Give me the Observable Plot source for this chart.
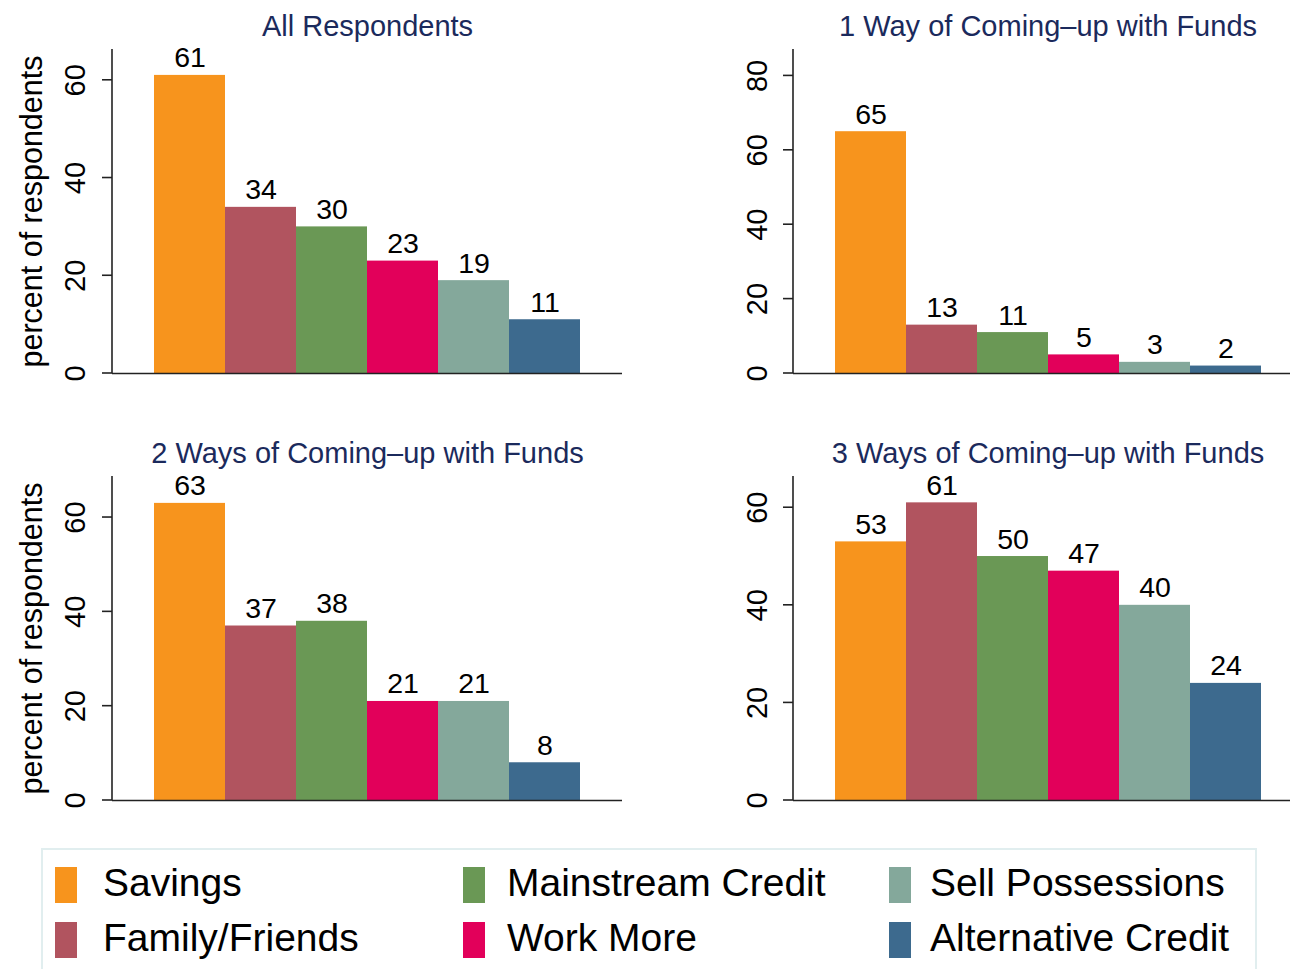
<!DOCTYPE html>
<html>
<head>
<meta charset="utf-8">
<script src="https://cdn.jsdelivr.net/npm/d3@7"></script>
<script src="https://cdn.jsdelivr.net/npm/@observablehq/plot@0.6"></script>
<style>
  html, body { margin: 0; padding: 0; background: #fff; }
  #wrap { position: relative; width: 1290px; height: 969px; overflow: hidden; background: #fff;
          font-family: "Liberation Sans", Arial, sans-serif; }
  .panel { position: absolute; }
  .panel svg { display: block; max-width: none !important; }
</style>
</head>
<body>
<div id="wrap"></div>
<script>
// ---- data ----
const categories = ["Savings", "Family/Friends", "Mainstream Credit", "Work More", "Sell Possessions", "Alternative Credit"];
const colors = ["#f7941d", "#b1545f", "#6a9855", "#e2005a", "#84a89b", "#3d6a8e"];
const panelTitles = ["All Respondents", "1 Way of Coming\u2013up with Funds", "2 Ways of Coming\u2013up with Funds", "3 Ways of Coming\u2013up with Funds"];
const allRespondents = [61, 34, 30, 23, 19, 11];
const oneWay = [65, 13, 11, 5, 3, 2];
const twoWays = [63, 37, 38, 21, 21, 8];
const threeWays = [53, 61, 50, 47, 40, 24];
const ticksA = [0, 20, 40, 60];
const ticksB = [0, 20, 40, 60, 80];
const yLabel = "percent of respondents";

const FONT = '"Liberation Sans", Arial, sans-serif';
const AXIS = "#222";
const TITLE = "#1b2a5c";

const panels = [
  {values: allRespondents, title: panelTitles[0], ticks: ticksA, yMax: 66.3, left: 0,   top: 0,   width: 645, marginLeft: 112, tickDx: -37, ylab: true},
  {values: oneWay,         title: panelTitles[1], ticks: ticksB, yMax: 87.1, left: 645, top: 0,   width: 680, marginLeft: 148, tickDx: -36, ylab: false},
  {values: twoWays,        title: panelTitles[2], ticks: ticksA, yMax: 68.7, left: 0,   top: 427, width: 645, marginLeft: 112, tickDx: -37, ylab: true},
  {values: threeWays,      title: panelTitles[3], ticks: ticksA, yMax: 66.4, left: 645, top: 427, width: 680, marginLeft: 148, tickDx: -36, ylab: false}
];

const yAxisMark = (ticks) => (index, scales, values, dims) => {
  const g = d3.create("svg:g").attr("stroke", AXIS).attr("stroke-width", 1.6).attr("fill", "none");
  const x0 = dims.marginLeft;
  g.append("line").attr("x1", x0).attr("x2", x0)
    .attr("y1", dims.marginTop).attr("y2", dims.height - dims.marginBottom);
  for (const t of ticks) {
    const y = scales.y(t);
    g.append("line").attr("x1", x0 - 10).attr("x2", x0).attr("y1", y).attr("y2", y);
  }
  return g.node();
};

function makePanel(p) {
  const data = categories.map((c, i) => ({cat: c, value: p.values[i]}));
  const marks = [
    Plot.barY(data, {x: "cat", y: "value", fill: "cat"}),
    Plot.text(data, {x: "cat", y: "value", text: d => String(d.value), lineAnchor: "bottom", dy: -8, fontSize: 28.5, fill: "#000"}),
    Plot.ruleY([0], {stroke: AXIS, strokeWidth: 1.6}),
    yAxisMark(p.ticks),
    Plot.text(p.ticks, {y: d => d, text: d => String(d), frameAnchor: "left", dx: p.tickDx, rotate: -90,
                        textAnchor: "middle", lineAnchor: "middle", fontSize: 29, fill: "#000"}),
    Plot.text([p.title], {text: d => d, frameAnchor: "top", dy: -14, lineAnchor: "bottom", fontSize: 29, fill: TITLE})
  ];
  if (p.ylab) {
    marks.push(Plot.text([yLabel], {text: d => d, frameAnchor: "left", dx: -80, rotate: -90,
                                    textAnchor: "middle", lineAnchor: "middle", fontSize: 30.5, fill: "#000"}));
  }
  return Plot.plot({
    width: p.width, height: 400,
    marginLeft: p.marginLeft, marginRight: 23, marginTop: 49, marginBottom: 27,
    style: {fontFamily: FONT, fontSize: "28px", color: "#000", background: "transparent", maxWidth: "none"},
    x: {type: "band", domain: categories, paddingInner: 0, paddingOuter: 0.566, axis: null},
    y: {domain: [0, p.yMax], axis: null},
    color: {domain: categories, range: colors},
    marks
  });
}

const wrap = document.getElementById("wrap");
for (const p of panels) {
  const div = document.createElement("div");
  div.className = "panel";
  div.style.left = p.left + "px";
  div.style.top = p.top + "px";
  div.style.width = p.width + "px";
  div.style.height = "400px";
  div.appendChild(makePanel(p));
  wrap.appendChild(div);
}

// ---- legend ----
const legendTop = 840;
const swatchX = [55, 463, 889];
const swatchY = [867, 922];
const textX = [103, 507, 930];
const textBase = [896, 951];
const leg = d3.create("svg").attr("width", 1290).attr("height", 969 - legendTop)
  .style("position", "absolute").style("left", "0px").style("top", legendTop + "px");
leg.append("rect").attr("x", 42).attr("y", 849 - legendTop).attr("width", 1214).attr("height", 200)
  .attr("fill", "#fff").attr("stroke", "#e1eeef").attr("stroke-width", 2);
categories.forEach((c, i) => {
  const col = Math.floor(i / 2), row = i % 2;
  leg.append("rect").attr("x", swatchX[col]).attr("y", swatchY[row] - legendTop)
    .attr("width", 22).attr("height", 36).attr("fill", colors[i]);
  leg.append("text").attr("x", textX[col]).attr("y", textBase[row] - legendTop)
    .attr("font-family", FONT).attr("font-size", 39).attr("fill", "#000").text(c);
});
wrap.appendChild(leg.node());
</script>
</body>
</html>
